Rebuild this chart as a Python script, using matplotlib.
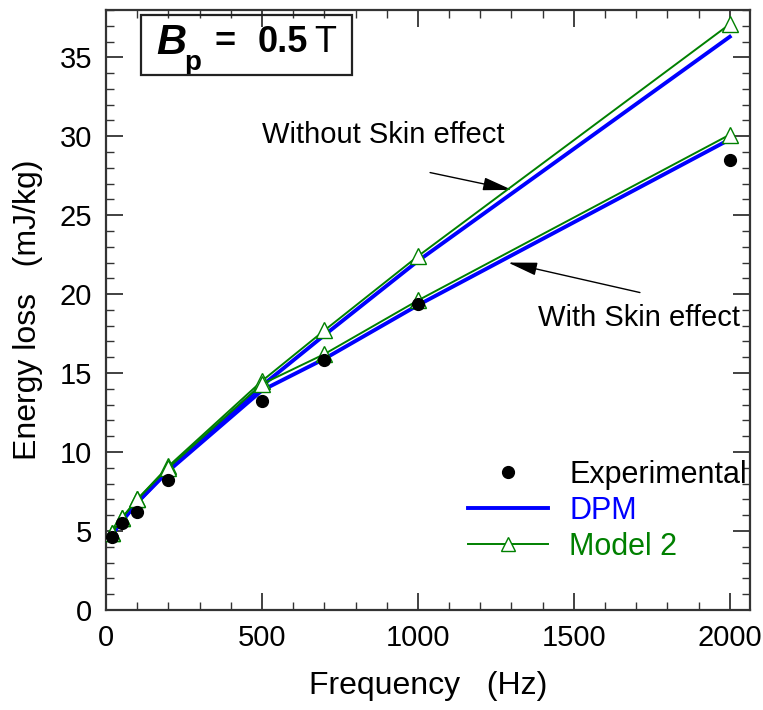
import matplotlib
matplotlib.use("Agg")
import matplotlib.pyplot as plt
from matplotlib.ticker import MultipleLocator
from matplotlib.patches import Rectangle

plt.rcParams['font.family'] = ['Liberation Sans', 'DejaVu Sans']

# data
freq = [20, 50, 100, 200, 500, 700, 1000, 2000]
exp_loss = [4.6, 5.5, 6.2, 8.2, 13.2, 15.8, 19.4, 28.5]

dpm_no_skin = [4.8, 5.6, 6.8, 8.9, 14.2, 17.4, 22.1, 36.3]
dpm_skin = [4.8, 5.6, 6.8, 8.8, 13.9, 15.9, 19.3, 29.8]
m2_no_skin = [4.9, 5.8, 7.0, 9.1, 14.5, 17.7, 22.4, 37.1]
m2_skin = [4.9, 5.8, 7.0, 9.0, 14.3, 16.2, 19.6, 30.1]

fig = plt.figure(figsize=(7.63, 7.10), dpi=100)
ax = fig.add_axes([0.139, 0.141, 0.844, 0.845])

green = '#008000'
blue = '#0000ff'

ax.plot(freq, dpm_no_skin, color=blue, lw=2.8, zorder=3)
ax.plot(freq, dpm_skin, color=blue, lw=2.8, zorder=3)
ax.plot(freq, m2_no_skin, color=green, lw=1.4, marker='^', ms=11,
        mfc='white', mec=green, mew=1, zorder=4)
ax.plot(freq, m2_skin, color=green, lw=1.4, marker='^', ms=11,
        mfc='white', mec=green, mew=1, zorder=4)
ax.plot(freq, exp_loss, 'o', color='black', ms=8.5, zorder=5)

ax.set_xlim(0, 2065)
ax.set_ylim(0, 38)
ax.xaxis.set_major_locator(MultipleLocator(500))
ax.xaxis.set_minor_locator(MultipleLocator(100))
ax.yaxis.set_major_locator(MultipleLocator(5))
ax.yaxis.set_minor_locator(MultipleLocator(1))
ax.tick_params(which='both', direction='in', top=True, right=True,
               labelsize=21, color='#333333')
ax.tick_params(which='major', length=12, width=1.3, pad=10)
ax.tick_params(which='minor', length=6, width=1)
for s in ax.spines.values():
    s.set_color('#333333')
    s.set_linewidth(1.6)

ax.set_xlabel('Frequency   (Hz)', fontsize=23, labelpad=14)
ax.set_ylabel('Energy loss   (mJ/kg)', fontsize=23, labelpad=12)

# B_p box
ax.add_patch(Rectangle((0.055, 0.892), 0.327, 0.1, transform=ax.transAxes,
                       fill=False, ec='#222222', lw=1.6, zorder=6))
ax.text(0.078, 0.945, 'B', transform=ax.transAxes, fontsize=30,
        fontweight='bold', fontstyle='italic', va='center', ha='left')
ax.text(0.122, 0.912, 'p', transform=ax.transAxes, fontsize=20,
        fontweight='bold', va='center', ha='left')
ax.text(0.185, 0.945, '=', transform=ax.transAxes, fontsize=26,
        fontweight='bold', va='center', ha='center')
ax.text(0.236, 0.945, '0.5', transform=ax.transAxes, fontsize=26,
        fontweight='bold', va='center', ha='left')
ax.text(0.324, 0.945, 'T', transform=ax.transAxes, fontsize=26,
        va='center', ha='left')

# annotations
arrow = dict(arrowstyle='-|>,head_length=0.9,head_width=0.2', color='black',
             lw=1, mutation_scale=20, shrinkA=0, shrinkB=0)
ax.text(500, 30.1, 'Without Skin effect', fontsize=21, ha='left', va='center')
ax.annotate('', xy=(1302, 26.6), xytext=(1039, 27.7), arrowprops=arrow)
ax.text(1385, 18.5, 'With Skin effect', fontsize=21, ha='left', va='center')
ax.annotate('', xy=(1289, 22.0), xytext=(1712, 20.1), arrowprops=arrow)

# legend
h_exp, = ax.plot([], [], 'o', color='black', ms=8.5)
h_dpm, = ax.plot([], [], color=blue, lw=2.8)
h_m2, = ax.plot([], [], color=green, lw=1.4, marker='^', ms=10,
                mfc='white', mec=green)
leg = ax.legend([h_exp, h_dpm, h_m2], ['Experimental', 'DPM', 'Model 2'],
                loc='lower right', bbox_to_anchor=(0.995, 0.08), frameon=False,
                borderpad=0, borderaxespad=0,
                fontsize=22, handlelength=2.6, handletextpad=0.7, labelspacing=0.2)
for t, c in zip(leg.get_texts(), ['black', blue, green]):
    t.set_color(c)

fig.savefig('out.png', dpi=100)
